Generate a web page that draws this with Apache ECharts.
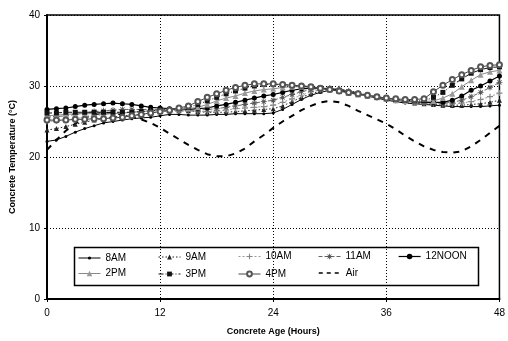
<!DOCTYPE html>
<html>
<head>
<meta charset="utf-8">
<script src="https://cdn.jsdelivr.net/npm/echarts@6/dist/echarts.min.js"></script>
<style>html,body{margin:0;padding:0;background:#fff;}#c{width:508px;height:341px;}</style>
</head>
<body>
<div id="c"></div>
<script>
const hours = [0,1,2,3,4,5,6,7,8,9,10,11,12,13,14,15,16,17,18,19,20,21,22,23,24,25,26,27,28,29,30,31,32,33,34,35,36,37,38,39,40,41,42,43,44,45,46,47,48];
const xTicks = [0,12,24,36,48];
const yTicks = [0,10,20,30,40];
const seriesNames = ['8AM','9AM','10AM','11AM','12NOON','2PM','3PM','4PM','Air'];

const t8AM = [22.2,22.4,22.9,23.5,24.0,24.4,24.8,25.0,25.2,25.4,25.5,25.6,25.8,26.0,26.0,25.9,25.9,25.9,26.0,26.0,26.1,26.1,26.1,26.1,26.2,26.7,27.4,28.1,28.7,29.1,29.4,29.5,29.3,29.0,28.6,28.3,28.0,27.8,27.6,27.5,27.4,27.3,27.2,27.1,27.1,27.1,27.1,27.2,27.3];
const t9AM = [23.8,24.0,24.3,24.6,24.9,25.2,25.4,25.6,25.8,25.9,26.0,26.2,26.4,26.5,26.5,26.5,26.4,26.3,26.3,26.3,26.4,26.5,26.6,26.7,26.8,27.2,27.8,28.4,28.9,29.3,29.6,29.6,29.4,29.0,28.7,28.4,28.2,28.0,27.8,27.6,27.5,27.4,27.3,27.3,27.3,27.4,27.5,27.7,28.0];
const t10AM = [25.0,25.1,25.2,25.4,25.6,25.8,26.0,26.1,26.2,26.3,26.4,26.5,26.6,26.6,26.5,26.5,26.4,26.4,26.5,26.6,26.8,26.9,27.0,27.1,27.3,27.7,28.2,28.7,29.2,29.5,29.7,29.6,29.3,29.0,28.7,28.4,28.2,28.0,27.8,27.7,27.6,27.5,27.5,27.5,27.6,27.8,28.1,28.5,29.0];
const t11AM = [25.6,25.7,25.8,26.0,26.2,26.4,26.5,26.6,26.7,26.7,26.7,26.7,26.7,26.7,26.6,26.6,26.6,26.7,26.8,27.0,27.2,27.4,27.6,27.8,28.0,28.4,28.8,29.2,29.5,29.7,29.7,29.5,29.2,28.9,28.6,28.4,28.2,28.0,27.9,27.8,27.7,27.6,27.6,27.7,28.0,28.5,29.1,29.8,30.5];
const t12NOON = [26.7,26.8,26.9,27.1,27.3,27.4,27.5,27.6,27.5,27.4,27.2,27.0,26.9,26.8,26.7,26.7,26.8,26.9,27.2,27.4,27.7,28.0,28.3,28.6,28.8,29.1,29.4,29.6,29.7,29.7,29.6,29.4,29.1,28.8,28.6,28.4,28.2,28.0,27.9,27.8,27.7,27.7,27.7,28.0,28.6,29.4,30.0,30.7,31.4];
const t2PM = [25.8,25.9,26.0,26.1,26.1,26.1,26.1,26.1,26.2,26.3,26.4,26.5,26.6,26.7,26.7,26.8,27.0,27.4,27.9,28.3,28.6,29.0,29.3,29.5,29.6,29.8,29.9,29.9,29.8,29.7,29.5,29.3,29.0,28.8,28.6,28.4,28.2,28.0,27.9,27.8,27.8,27.9,28.3,28.9,29.9,30.8,31.6,32.0,32.2];
const t3PM = [26.2,26.2,26.3,26.3,26.3,26.3,26.3,26.3,26.3,26.3,26.4,26.5,26.6,26.7,26.8,27.0,27.4,27.9,28.4,28.9,29.3,29.7,30.0,30.2,30.2,30.2,30.1,30.0,29.9,29.7,29.5,29.3,29.1,28.9,28.7,28.5,28.3,28.1,28.0,27.9,27.9,28.4,29.1,30.1,31.0,31.8,32.3,32.6,32.7];
const t4PM = [25.2,25.2,25.2,25.3,25.3,25.4,25.4,25.5,25.6,25.8,26.0,26.2,26.4,26.6,26.9,27.2,27.8,28.4,28.9,29.4,29.8,30.1,30.3,30.3,30.3,30.2,30.1,30.0,29.9,29.7,29.5,29.3,29.1,28.9,28.7,28.5,28.3,28.2,28.1,28.1,28.2,29.2,30.1,30.9,31.6,32.2,32.7,32.9,33.0];
const tAir = [21.0,22.4,23.7,24.7,25.5,26.0,26.2,26.2,26.0,25.7,25.3,24.8,24.1,23.3,22.5,21.7,21.0,20.4,20.1,20.1,20.5,21.2,22.2,23.1,24.1,25.0,25.8,26.6,27.2,27.7,27.9,27.7,27.2,26.5,25.9,25.3,24.7,23.9,23.0,22.2,21.5,21.0,20.7,20.6,20.8,21.5,22.4,23.4,24.4];

const values = [t8AM,t9AM,t10AM,t11AM,t12NOON,t2PM,t3PM,t4PM,tAir];

const PLUS = 'path://M4,0H6V4H10V6H6V10H4V6H0V4H4Z';
const AST = 'path://M4.3,0H5.7V4.3H10V5.7H5.7V10H4.3V5.7H0V4.3H4.3Z M1,2L2,1L9,8L8,9Z M8,1L9,2L2,9L1,8Z';

const styles = [
  {symbol:'circle', size:3, lh:4, color:'#000', line:{color:'#000', width:1, type:'solid'}},
  {symbol:'triangle', size:5, lh:6, color:'#222', line:{color:'#222', width:1, type:[1.5,2]}},
  {symbol:PLUS, size:6, lh:7, color:'#888', line:{color:'#999', width:1, type:[2,2]}},
  {symbol:AST, size:6, lh:7, color:'#555', line:{color:'#666', width:1, type:[4,2]}},
  {symbol:'circle', size:5, lh:7, color:'#000', line:{color:'#000', width:1.2, type:'solid'}},
  {symbol:'triangle', size:6, lh:7, color:'#999', line:{color:'#888', width:1, type:'solid'}},
  {symbol:'rect', size:5, lh:6, color:'#111', line:{color:'#111', width:1, type:[5,2,1,2]}},
  {symbol:'emptyCircle', size:5, lh:6, color:'#555', line:{color:'#444', width:1, type:'solid'}},
  {symbol:'none', size:0, lh:8, color:'#000', line:{color:'#000', width:1.5, type:[4,4]}}
];

const series = seriesNames.map((n,k)=>({
  name:n, type:'line', animation:false,
  data: hours.map((h,i)=>[h, values[k][i]]),
  symbol: styles[k].symbol, symbolSize: styles[k].size, showSymbol: styles[k].symbol!=='none',
  itemStyle: k===7 ? {color:styles[k].color, borderWidth:1} : {color: styles[k].color, borderWidth:0},
  lineStyle: k===8 ? {color:'#000', width:2, type:[6,6]} : styles[k].line,
  z: k===8 ? 1 : 2
}));

const colX = [78,158,238,318,398];
const rowY = [255,272];
const legends = seriesNames.map((n,k)=>{
  const r = k<5 ? 0 : 1; const c = k<5 ? k : k-5;
  const lh = styles[k].lh;
  const item = k===8 ? {name:n, itemStyle:{opacity:0}, lineStyle:styles[k].line} : {name:n, lineStyle:styles[k].line};
  return {
    data:[item], left: colX[c], top: rowY[r]-lh/2, padding:0, itemWidth:22, itemHeight:lh, itemGap:0, z:10,
    textStyle:{fontFamily:'Liberation Sans, Arial', fontSize:10, color:'#000'},
    selectedMode:false
  };
});

const chart = echarts.init(document.getElementById('c'), null, {renderer:'canvas'});
chart.setOption({
  backgroundColor:'#fff',
  animation:false,
  grid:{left:43, right:4, top:15, bottom:39, show:true, borderColor:'#000', borderWidth:1.5, backgroundColor:'transparent'},
  xAxis:{type:'value', min:xTicks[0], max:xTicks[xTicks.length-1], interval:12,
    name:'Concrete Age (Hours)', nameLocation:'middle', nameGap:28,
    nameTextStyle:{fontFamily:'Liberation Sans, Arial', fontSize:9, fontWeight:'bold', color:'#000'},
    axisLine:{show:true, lineStyle:{color:'#000', width:2}},
    axisTick:{show:true, inside:false, length:3, lineStyle:{color:'#000'}},
    axisLabel:{fontFamily:'Liberation Sans, Arial', fontSize:10, color:'#000', margin:9},
    splitLine:{show:true, lineStyle:{color:'#000', width:1, type:[1,2]}}
  },
  yAxis:{type:'value', min:yTicks[0], max:yTicks[yTicks.length-1], interval:10,
    name:'Concrete Temperature (\u00B0C)', nameLocation:'middle', nameGap:30,
    nameTextStyle:{fontFamily:'Liberation Sans, Arial', fontSize:9, fontWeight:'bold', color:'#000'},
    axisLine:{show:true, lineStyle:{color:'#000', width:2}},
    axisTick:{show:true, inside:false, length:3, lineStyle:{color:'#000'}},
    axisLabel:{fontFamily:'Liberation Sans, Arial', fontSize:10, color:'#000', margin:7},
    splitLine:{show:true, lineStyle:{color:'#000', width:1, type:[1,2]}}
  },
  legend: legends,
  graphic:[{type:'rect', left:72, top:245, shape:{width:404, height:38}, style:{fill:'none', stroke:'#000', lineWidth:1.5}, z:0, silent:true}],
  series: series
});
</script>
</body>
</html>
